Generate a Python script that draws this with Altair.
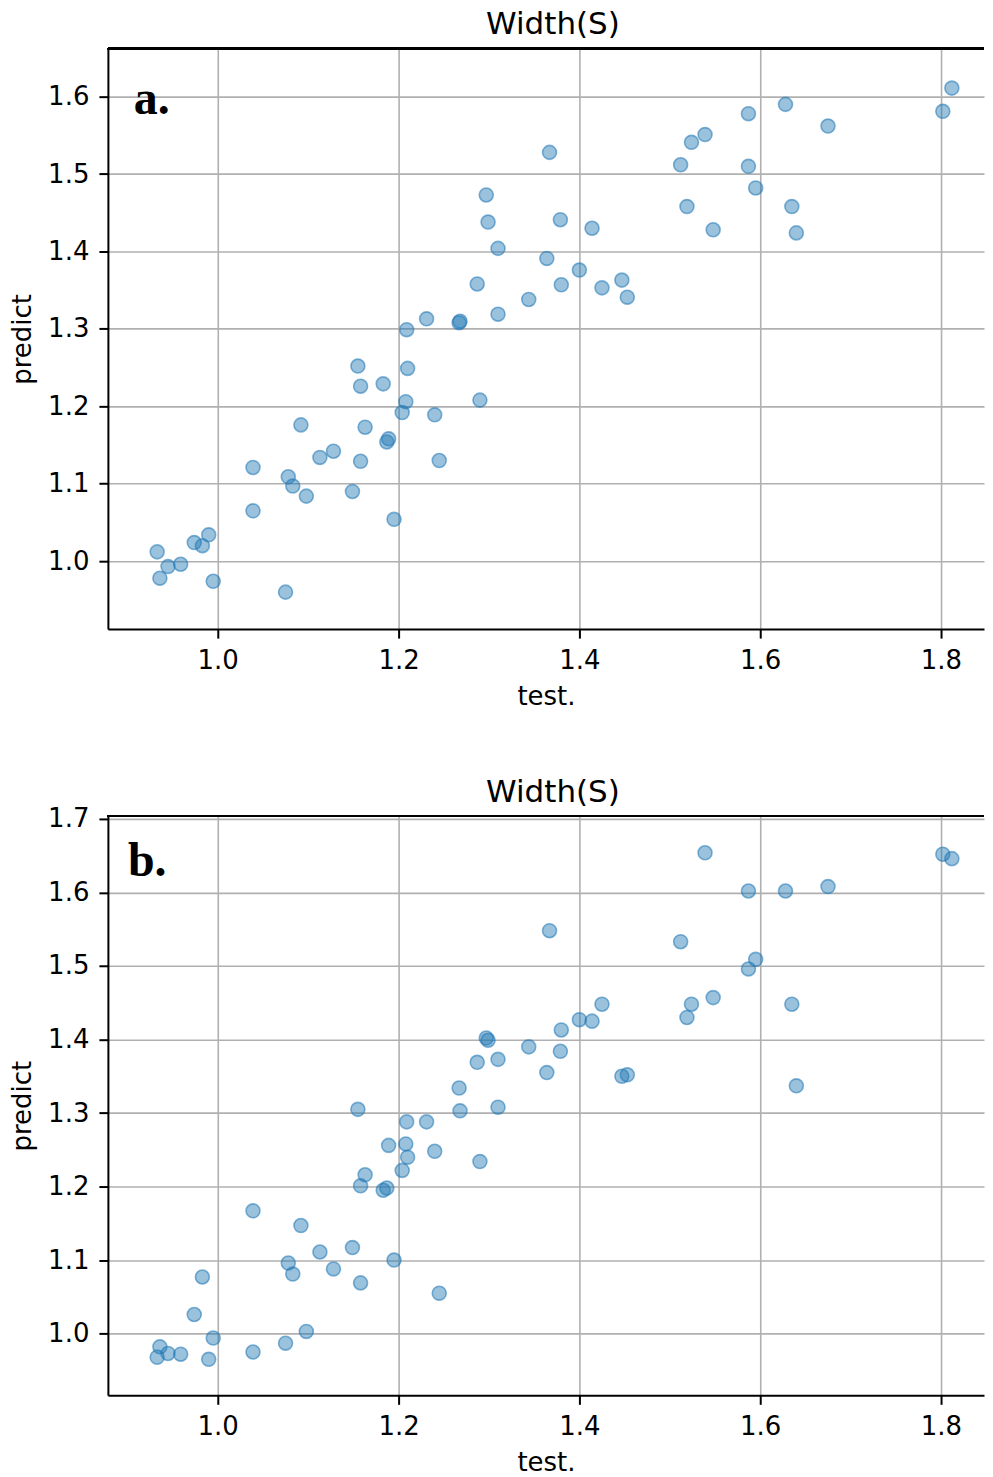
import altair as alt
import pandas as pd

# ---- data ----
test_x = [0.933, 0.936, 0.945, 0.959, 0.974, 0.983, 0.990, 0.995, 1.039, 1.039,
          1.075, 1.078, 1.083, 1.092, 1.098, 1.113, 1.128, 1.149, 1.155, 1.158,
          1.158, 1.163, 1.183, 1.187, 1.189, 1.195, 1.204, 1.208, 1.210, 1.209,
          1.231, 1.240, 1.245, 1.267, 1.268, 1.290, 1.287, 1.297, 1.299, 1.310,
          1.310, 1.344, 1.364, 1.367, 1.379, 1.380, 1.400, 1.414, 1.425, 1.447,
          1.453, 1.512, 1.519, 1.524, 1.539, 1.548, 1.587, 1.587, 1.595, 1.628,
          1.635, 1.640, 1.675, 1.802, 1.812]

pred_a = [1.012, 0.978, 0.993, 0.996, 1.024, 1.020, 1.034, 0.974, 1.121, 1.065,
          0.960, 1.109, 1.097, 1.176, 1.084, 1.134, 1.142, 1.090, 1.252, 1.226,
          1.129, 1.173, 1.229, 1.154, 1.158, 1.054, 1.192, 1.206, 1.249, 1.299,
          1.313, 1.189, 1.130, 1.308, 1.310, 1.208, 1.358, 1.473, 1.438, 1.404,
          1.319, 1.338, 1.391, 1.528, 1.441, 1.357, 1.376, 1.430, 1.353, 1.363,
          1.341, 1.512, 1.458, 1.541, 1.551, 1.428, 1.578, 1.510, 1.482, 1.590,
          1.458, 1.424, 1.562, 1.581, 1.611]

pred_b = [0.968, 0.982, 0.973, 0.972, 1.026, 1.077, 0.965, 0.994, 1.167, 0.975,
          0.987, 1.096, 1.081, 1.147, 1.003, 1.111, 1.088, 1.117, 1.305, 1.201,
          1.069, 1.216, 1.195, 1.198, 1.256, 1.100, 1.222, 1.258, 1.240, 1.288,
          1.288, 1.248, 1.055, 1.334, 1.303, 1.234, 1.369, 1.402, 1.399, 1.373,
          1.308, 1.390, 1.355, 1.548, 1.384, 1.413, 1.427, 1.425, 1.448, 1.350,
          1.352, 1.533, 1.430, 1.448, 1.654, 1.457, 1.602, 1.496, 1.509, 1.602,
          1.448, 1.337, 1.608, 1.652, 1.646]

x_ticks = [1.0, 1.2, 1.4, 1.6, 1.8]
y_ticks_a = [1.0, 1.1, 1.2, 1.3, 1.4, 1.5, 1.6]
y_ticks_b = [1.0, 1.1, 1.2, 1.3, 1.4, 1.5, 1.6, 1.7]

panel_labels = ["a.", "b."]
label_x = [0.907, 0.9006]
label_y = [1.577, 1.623]

title_text = "Width(S)"
x_title = "test."
y_title = "predict"

# ---- layout / style ----
W = 877
H_A = 581
H_B = 580
X_DOMAIN = [0.8785, 0.8785 + W / 905.0]
Y_DOMAIN_A = [1.6619 - H_A / 775.0, 1.6619]
Y_DOMAIN_B = [1.7041 - H_B / 736.0, 1.7041]
TITLE_OFFSET = [7, -3.5]

FONT = "DejaVu Sans"
BLUE = "#1f77b4"
GRID = "#b0b0b0"


def x_axis():
    return alt.Axis(values=x_ticks, format=".1f", title=x_title, grid=True,
                    gridColor=GRID, gridWidth=1.6, gridOpacity=1,
                    domainColor="black", domainWidth=2,
                    tickColor="black", tickSize=9, tickWidth=2,
                    labelFont=FONT, labelFontSize=26, labelColor="black",
                    labelPadding=9, labelFlush=False,
                    titleFont=FONT, titleFontSize=26, titleFontWeight="normal",
                    titleColor="black", titlePadding=10)


def y_axis(ticks):
    return alt.Axis(values=ticks, format=".1f", title=y_title, grid=True,
                    gridColor=GRID, gridWidth=1.6, gridOpacity=1,
                    domainColor="black", domainWidth=2,
                    tickColor="black", tickSize=9, tickWidth=2,
                    labelFont=FONT, labelFontSize=26, labelColor="black",
                    labelPadding=10,
                    titleFont=FONT, titleFontSize=26, titleFontWeight="normal",
                    titleColor="black", titlePadding=12)


def panel(yvals, ydomain, yticks, height, idx):
    df = pd.DataFrame({"test": test_x, "predict": yvals})
    xs = alt.Scale(domain=X_DOMAIN, nice=False, zero=False)
    ys = alt.Scale(domain=ydomain, nice=False, zero=False)
    xenc = alt.X("test:Q", scale=xs, axis=x_axis(), title=x_title)
    yenc = alt.Y("predict:Q", scale=ys, axis=y_axis(yticks), title=y_title)
    pts = alt.Chart(df).mark_circle(
        size=195, fill=BLUE, fillOpacity=0.45, stroke=BLUE,
        strokeOpacity=0.55, strokeWidth=1.6
    ).encode(x=xenc, y=yenc)
    # top spine of the frame, placed through the y scale at its upper limit
    top = alt.Chart(df).mark_rule(color="black", strokeWidth=2).encode(
        y=alt.datum(ydomain[1], scale=ys, axis=y_axis(yticks), title=y_title),
    )
    lab_df = pd.DataFrame({"test": [label_x[idx]], "predict": [label_y[idx]],
                           "t": [panel_labels[idx]]})
    lab = alt.Chart(lab_df).mark_text(
        align="left", baseline="alphabetic", font="Liberation Serif",
        fontWeight="bold", fontSize=48, color="black"
    ).encode(x=xenc, y=yenc, text="t:N")
    return alt.layer(pts, top, lab).properties(
        width=W, height=height,
        title=alt.TitleParams(title_text, font=FONT, fontSize=31,
                              fontWeight="normal", color="black",
                              offset=TITLE_OFFSET[idx],
                              anchor="middle", dx=7),
    )


pa = panel(pred_a, Y_DOMAIN_A, y_ticks_a, H_A, 0)
pb = panel(pred_b, Y_DOMAIN_B, y_ticks_b, H_B, 1)

chart = alt.vconcat(pa, pb, spacing=68).configure_view(stroke=None).properties(
    padding={"left": 1, "top": 0, "right": 0, "bottom": 0},
    background="white",
)

chart.save("out.html", embed_options={"renderer": "svg", "actions": False})
